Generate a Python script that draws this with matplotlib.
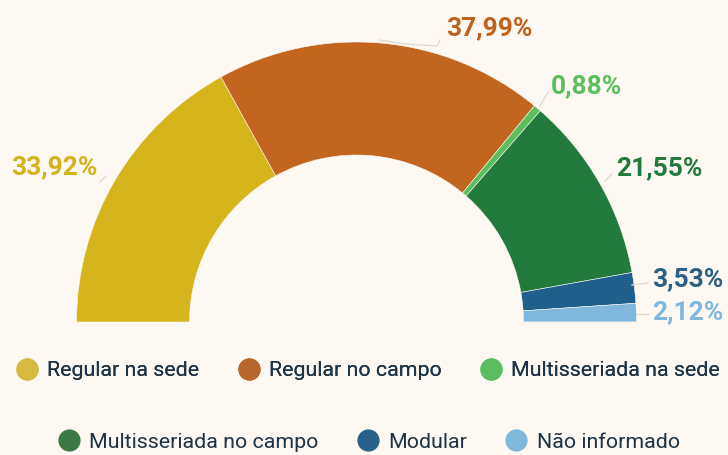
import matplotlib
matplotlib.use("Agg")
import matplotlib.pyplot as plt
from matplotlib.lines import Line2D
import numpy as np

categories = ["Regular na sede", "Regular no campo", "Multisseriada na sede",
              "Multisseriada no campo", "Modular", "Não informado"]
values = [33.92, 37.99, 0.88, 21.55, 3.53, 2.12]
value_labels = ["33,92%", "37,99%", "0,88%", "21,55%", "3,53%", "2,12%"]

colors = ["#d6b41c", "#c2651f", "#5cbf5c", "#237a3d", "#1f5f8c", "#7fb8dc"]
legend_colors = ["#d6b93e", "#b7672c", "#5bbd5f", "#3b7a45", "#286289", "#7fb8da"]
label_colors = ["#d4b21a", "#c0611d", "#5cbf5c", "#237a3d", "#2a5f86", "#7fb8dc"]
bg = "#fdf8f1"

plt.rcParams['font.family'] = ['Roboto', 'DejaVu Sans']

fig = plt.figure(figsize=(7.28, 4.55), dpi=100, facecolor=bg)
ax = fig.add_axes([0, 0, 1, 1])
ax.set_facecolor(bg)

cx, cy = 356.5, 455 - 322
R, W = 280, 113
fr = [v / 200.0 for v in values]
wedges, _ = ax.pie(fr, colors=colors, startangle=180, counterclock=False,
                   normalize=False, center=(cx, cy), radius=R, frame=True,
                   wedgeprops=dict(width=W, edgecolor=bg, linewidth=0.4))
ax.set_xlim(0, 728)
ax.set_ylim(0, 455)
ax.set_aspect('equal')
ax.axis('off')

# label positions (pixels from top-left), alignment
label_pos = [(11, 167, 'left'), (446, 28, 'left'), (551, 86, 'left'),
             (616, 168, 'left'), (652, 279, 'left'), (652, 312, 'left')]
# leader lines (from arc to label)
leaders = [[(100, 182), (106, 176)],
           [(380, 40), (405, 44), (437, 46), (440, 40)],
           [(540, 106), (548, 92)],
           [(605, 181), (612, 174)],
           [(632, 285), (648, 283)],
           [(636, 314), (648, 314)]]
for pts in leaders:
    xs = [p[0] for p in pts]
    ys = [455 - p[1] for p in pts]
    ax.plot(xs, ys, color="#e0dad3", lw=1, zorder=1)

for lab, (x, y, ha), c in zip(value_labels, label_pos, label_colors):
    ax.text(x, 455 - y, lab, color=c, fontsize=19, fontweight='bold',
            ha=ha, va='center')

def legend_row(idx, ypix, xcenter):
    handles = [Line2D([], [], marker='o', linestyle='none', markersize=16,
                      markerfacecolor=legend_colors[i], markeredgecolor='none')
               for i in idx]
    leg = fig.legend(handles, [categories[i] for i in idx], ncol=len(idx),
                     loc='center', bbox_to_anchor=(xcenter / 728, 1 - ypix / 455),
                     frameon=False, fontsize=15.4, handletextpad=0.45,
                     columnspacing=1.8, labelcolor="#1d3447", handlelength=1.0)
    return leg

l1 = legend_row([0, 1, 2], 371, 368)
fig.add_artist(l1)
legend_row([3, 4, 5], 442, 369)

fig.savefig("out.png", dpi=100, facecolor=bg)
